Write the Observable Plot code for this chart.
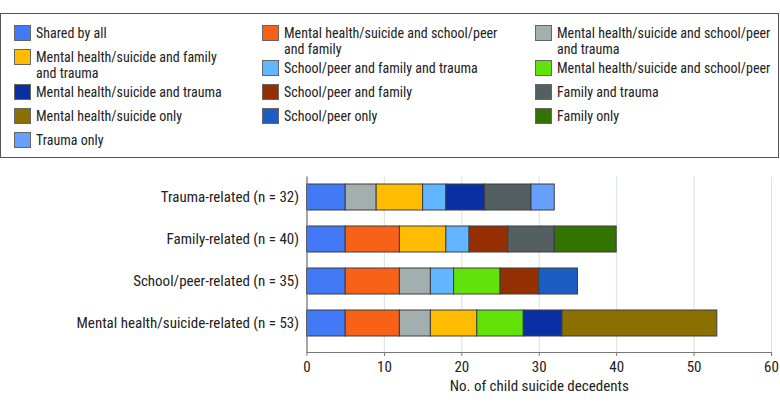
<!DOCTYPE html>
<html>
<head>
<meta charset="utf-8">
<script src="https://cdn.jsdelivr.net/npm/d3@7"></script>
<script src="https://cdn.jsdelivr.net/npm/@observablehq/plot@0.6"></script>
<style>
  html, body { margin: 0; padding: 0; background: #fff; }
  body { width: 780px; height: 405px; position: relative; overflow: hidden;
         font-family: Roboto, "Noto Sans", sans-serif; font-stretch: condensed; color: #222; }
  #legend { position: absolute; left: 0; top: 13px; width: 779px; height: 145px; box-sizing: border-box;
            border: 1.5px solid #555; }
  .col { position: absolute; top: 10.5px; display: flex; flex-direction: column; gap: 3px; width: 240px; }
  .item { display: flex; align-items: flex-start; gap: 5px; font-size: 14px; line-height: 16px; min-height: 21px; }
  .item .lab { white-space: nowrap; }
  .sw { flex: 0 0 auto; width: 15px; height: 14px; margin-top: 0.5px; border: 1px solid #666; }
  #chart { position: absolute; left: 0; top: 157px; }
  #chart svg { background: transparent !important; font-stretch: condensed; }
</style>
</head>
<body>
<div id="legend"></div>
<div id="chart"></div>
<script>
const groups = [
  "Trauma-related (n = 32)",
  "Family-related (n = 40)",
  "School/peer-related (n = 35)",
  "Mental health/suicide-related (n = 53)"
];
const categories = [
  "Shared by all",
  "Mental health/suicide and school/peer and family",
  "Mental health/suicide and school/peer and trauma",
  "Mental health/suicide and family and trauma",
  "School/peer and family and trauma",
  "Mental health/suicide and school/peer",
  "Mental health/suicide and trauma",
  "School/peer and family",
  "Family and trauma",
  "Mental health/suicide only",
  "School/peer only",
  "Family only",
  "Trauma only"
];
const colors = [
  "#4179F7", "#F76218", "#A3AFAE", "#FFBC00", "#62B5FF", "#63E20A", "#0A2FA3",
  "#932F00", "#545F61", "#8B6F00", "#1B5EC3", "#337300", "#679FFF"
];
// counts per category (same order as categories)
const traumaValues = [5, 0, 4, 6, 3, 0, 5, 0, 6, 0, 0, 0, 3];
const familyValues = [5, 7, 0, 6, 3, 0, 0, 5, 6, 0, 0, 8, 0];
const schoolValues = [5, 7, 4, 0, 3, 6, 0, 5, 0, 0, 5, 0, 0];
const mentalValues = [5, 7, 4, 6, 0, 6, 5, 0, 0, 20, 0, 0, 0];
const xTicks = [0, 10, 20, 30, 40, 50, 60];
const xLabel = "No. of child suicide decedents";

const series = [traumaValues, familyValues, schoolValues, mentalValues];
const rows = [];
groups.forEach((g, gi) => {
  series[gi].forEach((v, ci) => {
    if (v > 0) rows.push({group: g, category: categories[ci], value: v});
  });
});

// legend (3 columns, row-major order)
const legend = document.getElementById("legend");
const colLeft = [13, 261, 534];
const cols = colLeft.map(l => {
  const c = document.createElement("div");
  c.className = "col";
  c.style.left = l + "px";
  legend.appendChild(c);
  return c;
});
const wraps = {
  "Mental health/suicide and school/peer and family": "Mental health/suicide and school/peer<br>and family",
  "Mental health/suicide and school/peer and trauma": "Mental health/suicide and school/peer<br>and trauma",
  "Mental health/suicide and family and trauma": "Mental health/suicide and family<br>and trauma"
};
categories.forEach((c, i) => {
  const it = document.createElement("div");
  it.className = "item";
  it.innerHTML = `<span class="sw" style="background:${colors[i]}"></span><span class="lab">${wraps[c] || c}</span>`;
  cols[i % 3].appendChild(it);
});

const plot = Plot.plot({
  width: 780,
  height: 248,
  marginLeft: 306.5,
  marginRight: 9,
  marginTop: 12,
  marginBottom: 53,
  style: {fontFamily: 'Roboto, "Noto Sans", sans-serif', fontSize: "15px", color: "#222", background: "transparent"},
  x: {domain: [0, 60]},
  y: {domain: groups, paddingInner: 0.373, paddingOuter: 0.355, label: null},
  color: {domain: categories, range: colors},
  marks: [
    Plot.gridX(xTicks, {stroke: "#dfe5e5", strokeOpacity: 1, strokeWidth: 1.2, insetTop: 7.5}),
    Plot.barX(rows, Plot.stackX({y: "group", x: "value", fill: "category", stroke: "#3d3d3d", strokeWidth: 1})),
    Plot.ruleX([0], {stroke: "#777", strokeWidth: 1.2, insetTop: 7.5}),
    Plot.frame({anchor: "bottom", stroke: "#777", strokeWidth: 1.2}),
    Plot.axisY({tickSize: 0, tickPadding: 8, label: null}),
    Plot.axisX(xTicks, {tickSize: 4, tickPadding: 5, stroke: "#777", label: xLabel, labelAnchor: "center", labelOffset: 38, labelArrow: "none"})
  ]
});
document.getElementById("chart").appendChild(plot);
</script>
</body>
</html>
